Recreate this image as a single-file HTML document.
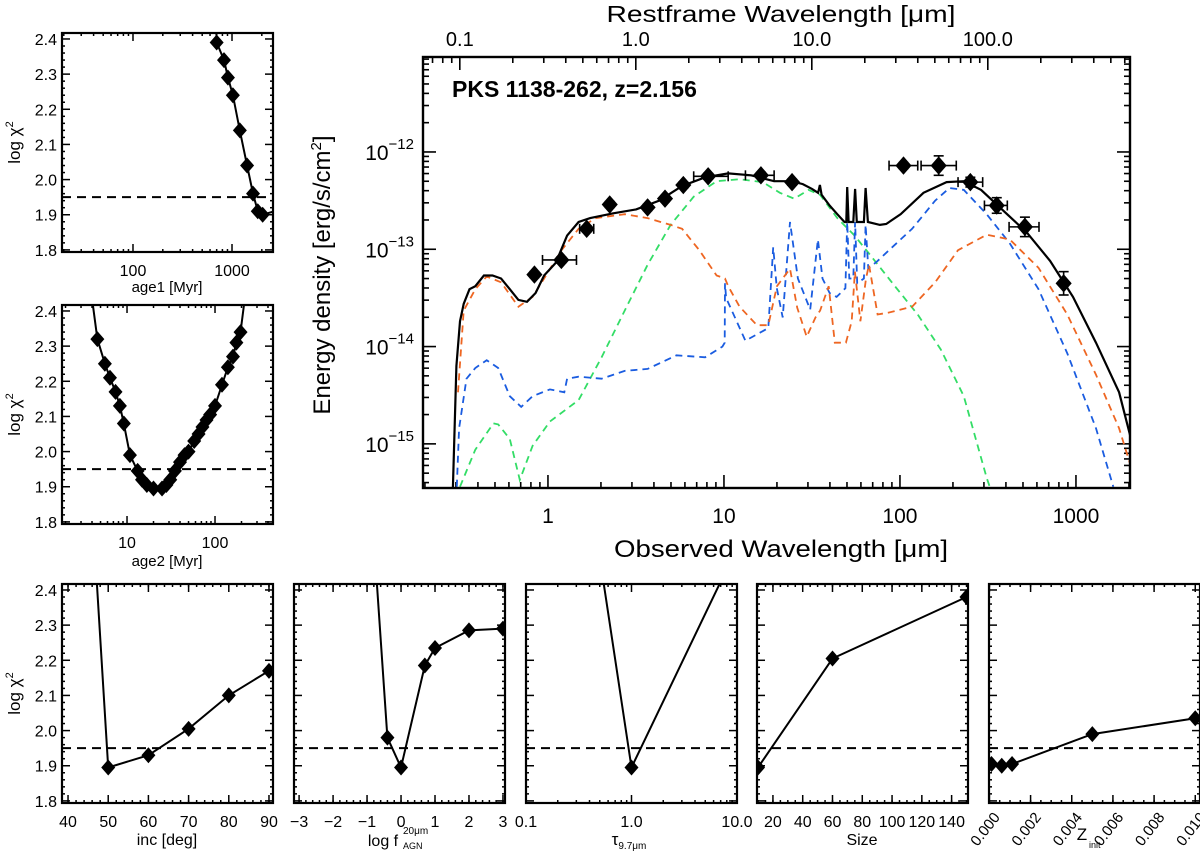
<!DOCTYPE html>
<html><head><meta charset="utf-8"><title>SED fit PKS 1138-262</title>
<style>
html,body{margin:0;padding:0;background:#fff;}
svg{display:block;font-family:"Liberation Sans",sans-serif;}
</style></head>
<body>
<svg id="chart" width="1200" height="856" viewBox="0 0 1200 856" xmlns="http://www.w3.org/2000/svg"></svg>
<script>
// ---------------- DATA ----------------
const age1X = [700, 830, 910, 1020, 1200, 1420, 1630, 1820, 2040];
const age1Y = [2.39, 2.34, 2.29, 2.24, 2.14, 2.04, 1.96, 1.91, 1.90];
const age1LineX = [680, 700, 830, 910, 1020, 1200, 1420, 1630, 1820, 2040, 2700];
const age1LineY = [2.50, 2.39, 2.34, 2.29, 2.24, 2.14, 2.04, 1.96, 1.91, 1.90, 1.91];
const age2X = [4.6, 5.6, 6.4, 7.4, 8.3, 9.2, 10.8, 13.2, 14.8, 16.8, 20, 25, 28, 31, 35, 40, 45, 50, 58, 65, 72, 80, 88, 100, 120, 140, 160, 175, 195];
const age2Y = [2.32, 2.25, 2.21, 2.17, 2.13, 2.08, 1.99, 1.945, 1.92, 1.905, 1.895, 1.895, 1.905, 1.92, 1.945, 1.97, 1.99, 2.0, 2.03, 2.05, 2.07, 2.09, 2.105, 2.13, 2.19, 2.24, 2.27, 2.31, 2.34];
const age2LineX = [3.7].concat(age2X, [235]);
const age2LineY = [2.50].concat(age2Y, [2.50]);
const incX = [50, 60, 70, 80, 90];
const incY = [1.895, 1.93, 2.005, 2.10, 2.17];
const incLineX = [47.0, 50, 60, 70, 80, 90];
const incLineY = [2.45, 1.895, 1.93, 2.005, 2.10, 2.17];
const fagnX = [-0.4, 0.0, 0.7, 1.0, 2.0, 3.0];
const fagnY = [1.98, 1.895, 2.185, 2.235, 2.285, 2.29];
const fagnLineX = [-0.72, -0.4, 0.0, 0.7, 1.0, 2.0, 3.0];
const fagnLineY = [2.43, 1.98, 1.895, 2.185, 2.235, 2.285, 2.29];
const tauX = [1.0];
const tauY = [1.895];
const tauLineX = [0.52, 1.0, 8.0];
const tauLineY = [2.46, 1.895, 2.46];
const sizeX = [10, 60, 150];
const sizeY = [1.895, 2.205, 2.38];
const zX = [0.0001, 0.0006, 0.0011, 0.005, 0.010];
const zY = [1.905, 1.90, 1.905, 1.99, 2.035];

const obsLogWl = [-0.077, 0.076, 0.22, 0.351, 0.566, 0.665, 0.769, 0.91, 1.21, 1.387, 2.02, 2.22, 2.40, 2.55, 2.71, 2.93];
const obsLogF  = [-13.26, -13.11, -12.79, -12.54, -12.57, -12.48, -12.34, -12.25, -12.24, -12.31, -12.14, -12.14, -12.31, -12.55, -12.77, -13.35];
const obsXErrLo = [0, 0.107, 0.04, 0, 0, 0, 0, 0.082, 0.088, 0, 0.082, 0.10, 0.07, 0.07, 0.09, 0];
const obsXErrHi = [0, 0.086, 0.04, 0, 0, 0, 0, 0.114, 0.075, 0, 0.081, 0.10, 0.07, 0.06, 0.08, 0];
const obsYErr   = [0.03, 0.03, 0.03, 0.03, 0.03, 0.03, 0.03, 0.03, 0.03, 0.03, 0.03, 0.10, 0.05, 0.08, 0.10, 0.12];

const totWl = [-0.54,-0.52,-0.50,-0.479,-0.446,-0.413,-0.364,-0.315,-0.266,-0.217,-0.168,-0.119,-0.070,-0.022,0.044,0.109,0.174,0.240,0.371,0.501,0.632,0.762,0.893,1.024,1.154,1.285,1.383,1.448,1.50,1.535,1.545,1.555,1.60,1.644,1.685,1.695,1.700,1.708,1.735,1.745,1.755,1.795,1.805,1.818,1.886,1.922,2.004,2.134,2.265,2.363,2.461,2.591,2.722,2.853,2.983,3.114,3.245,3.32];
const totF  = [-15.45,-14.20,-13.74,-13.56,-13.41,-13.38,-13.27,-13.27,-13.30,-13.41,-13.52,-13.54,-13.45,-13.27,-13.14,-12.86,-12.72,-12.68,-12.63,-12.59,-12.50,-12.35,-12.26,-12.22,-12.24,-12.30,-12.30,-12.33,-12.38,-12.42,-12.34,-12.44,-12.55,-12.64,-12.72,-12.72,-12.36,-12.72,-12.72,-12.38,-12.72,-12.72,-12.37,-12.72,-12.75,-12.74,-12.64,-12.42,-12.31,-12.30,-12.39,-12.61,-12.83,-13.12,-13.49,-13.96,-14.47,-15.0];

const starWl = [-0.511,-0.479,-0.413,-0.348,-0.266,-0.168,-0.087,-0.022,0.077,0.174,0.272,0.436,0.566,0.697,0.762,0.860,0.958,1.006,1.024,1.089,1.187,1.252,1.301,1.375,1.416,1.47,1.52,1.546,1.595,1.63,1.693,1.726,1.744,1.775,1.807,1.824,1.873,1.938,2.069,2.200,2.330,2.493,2.624,2.787,2.951,3.114,3.245,3.32];
const starF  = [-14.47,-13.63,-13.41,-13.28,-13.34,-13.59,-13.49,-13.30,-13.01,-12.79,-12.68,-12.64,-12.68,-12.75,-12.79,-13.01,-13.27,-13.30,-13.38,-13.59,-13.78,-13.78,-13.38,-13.20,-13.60,-13.90,-13.70,-13.63,-13.38,-13.96,-13.96,-13.74,-13.23,-13.74,-13.30,-13.16,-13.67,-13.65,-13.59,-13.34,-13.01,-12.85,-12.90,-13.19,-13.67,-14.29,-14.84,-15.28];

const agnWl = [-0.518,-0.505,-0.463,-0.413,-0.348,-0.283,-0.217,-0.152,-0.087,0.011,0.093,0.109,0.174,0.305,0.436,0.566,0.730,0.893,0.991,1.004,1.006,1.012,1.122,1.252,1.28,1.30,1.334,1.375,1.42,1.49,1.534,1.56,1.60,1.64,1.69,1.700,1.712,1.735,1.745,1.757,1.795,1.805,1.82,1.873,1.938,2.069,2.200,2.281,2.363,2.493,2.624,2.787,2.951,3.114,3.212];
const agnF  = [-15.44,-14.84,-14.33,-14.22,-14.14,-14.22,-14.51,-14.62,-14.51,-14.44,-14.47,-14.33,-14.31,-14.33,-14.25,-14.23,-14.09,-14.11,-14.00,-13.96,-13.35,-13.50,-13.94,-13.81,-12.98,-13.40,-13.70,-12.72,-13.30,-13.62,-12.90,-13.30,-13.45,-13.49,-13.40,-12.72,-13.30,-13.30,-12.72,-13.35,-13.30,-12.75,-13.20,-13.12,-13.01,-12.79,-12.50,-12.37,-12.39,-12.64,-12.94,-13.41,-14.07,-14.84,-15.44];

const hotWl = [-0.50,-0.413,-0.31,-0.283,-0.217,-0.16,-0.087,0.011,0.174,0.305,0.436,0.566,0.697,0.828,0.958,1.089,1.220,1.318,1.399,1.481,1.546,1.644,1.742,1.840,1.971,2.101,2.232,2.363,2.493,2.510];
const hotF  = [-15.44,-15.06,-14.79,-14.80,-14.95,-15.37,-15.02,-14.77,-14.55,-14.11,-13.63,-13.16,-12.75,-12.46,-12.30,-12.28,-12.31,-12.42,-12.48,-12.39,-12.44,-12.68,-12.86,-13.08,-13.38,-13.67,-14.03,-14.51,-15.35,-15.44];

const mainXTickLabels = ['1', '10', '100', '1000'];
const mainTopTickLabels = ['0.1', '1.0', '10.0', '100.0'];
const mainYTickExp = ['\u221212', '\u221213', '\u221214', '\u221215'];

// ---------------- HELPERS ----------------
const NS = 'http://www.w3.org/2000/svg';
const svg = document.getElementById('chart');
function mk(tag, attrs, parent, name) {
  const el = document.createElementNS(NS, tag);
  for (const k in attrs) el.setAttribute(k, attrs[k]);
  
  
  parent.appendChild(el);
  return el;
}
function txt(x, y, s, size, anchor, parent, name, extra) {
  const a = {x: x, y: y, 'font-size': size, 'text-anchor': anchor || 'middle', fill: '#000'};
  if (extra) for (const k in extra) a[k] = extra[k];
  const t = mk('text', a, parent, name);
  t.textContent = s;
  return t;
}
let clipId = 0;
function makeClip(L, T, W, H) {
  clipId++;
  const cp = mk('clipPath', {id: 'clip' + clipId}, svg, 'clip-region');
  mk('rect', {x: L, y: T, width: W, height: H}, cp, 'clip-rect');
  return 'url(#clip' + clipId + ')';
}
function diamond(cx, cy, hw, hh, parent, name) {
  return mk('polygon', {points: (cx) + ',' + (cy - hh) + ' ' + (cx + hw) + ',' + cy + ' ' + cx + ',' + (cy + hh) + ' ' + (cx - hw) + ',' + cy, fill: '#000'}, parent, name);
}
function pathD(xs, ys, sx, sy) {
  let d = '';
  for (let i = 0; i < xs.length; i++) d += (i ? 'L' : 'M') + sx(xs[i]).toFixed(1) + ',' + sy(ys[i]).toFixed(1);
  return d;
}

// ---------------- CHI PANELS ----------------
const YMIN = 1.794, YMAX = 2.417;
function chiPanel(c) {
  const g = mk('g', {}, svg, c.name);
  const L = c.L, R = c.L + 211, T = c.T, B = c.T + 219;
  const sx = c.log ? (v => L + (Math.log10(v) - c.xmin) / (c.xmax - c.xmin) * (R - L))
                   : (v => L + (v - c.xmin) / (c.xmax - c.xmin) * (R - L));
  const sy = v => B - (v - YMIN) / (YMAX - YMIN) * (B - T);
  const tg = mk('g', {stroke: '#000', 'stroke-width': 1.5}, g, c.name + '-ticks');
  for (let k = 0; k <= 30; k++) {
    const v = 1.8 + k * 0.02;
    const major = k % 5 === 0;
    const len = major ? 8 : 3;
    const y = sy(v);
    mk('line', {x1: L, y1: y, x2: L + len, y2: y}, tg, 'y-tick');
    mk('line', {x1: R, y1: y, x2: R - len, y2: y}, tg, 'y-tick');
    if (major && c.yLabels) txt(L - 5, y + 6, v.toFixed(1), 16, 'end', g, 'y-tick-label');
  }
  c.xMinor.forEach(v => {
    const x = sx(v);
    mk('line', {x1: x, y1: B, x2: x, y2: B - 3}, tg, 'x-minor-tick');
    mk('line', {x1: x, y1: T, x2: x, y2: T + 3}, tg, 'x-minor-tick');
  });
  c.xMajor.forEach((v, i) => {
    const x = sx(v);
    mk('line', {x1: x, y1: B, x2: x, y2: B - 8}, tg, 'x-tick');
    mk('line', {x1: x, y1: T, x2: x, y2: T + 8}, tg, 'x-tick');
    if (c.rotLabels) {
      txt(x + 3, B + 8, c.xLabels[i], 15, 'end', g, 'x-tick-label', {transform: 'rotate(-52 ' + (x + 3) + ' ' + (B + 8) + ')', 'dominant-baseline': 'hanging'});
    } else {
      txt(x, B + 24, c.xLabels[i], 16, 'middle', g, 'x-tick-label');
    }
  });
  const clip = makeClip(L, T, R - L, B - T);
  const cg = mk('g', {'clip-path': clip}, g, c.name + '-plot-area');
  mk('line', {x1: L, y1: sy(1.95), x2: R, y2: sy(1.95), stroke: '#000', 'stroke-width': 2, 'stroke-dasharray': '9,6'}, cg, 'threshold-line');
  mk('path', {d: pathD(c.lx, c.ly, sx, sy), fill: 'none', stroke: '#000', 'stroke-width': 2}, cg, 'chi2-line');
  for (let i = 0; i < c.mx.length; i++) diamond(sx(c.mx[i]), sy(c.my[i]), 7, 8, cg, 'chi2-marker');
  mk('rect', {x: L, y: T, width: R - L, height: B - T, fill: 'none', stroke: '#000', 'stroke-width': 2.2}, g, c.name + '-frame');
  if (c.yLabels) {
    const cy = (T + B) / 2;
    const t = txt(20, cy, 'log \u03c7', 17, 'middle', g, 'y-axis-title', {transform: 'rotate(-90 20 ' + cy + ')'});
    const sp = mk('tspan', {dy: -7, 'font-size': 11}, t, 'superscript');
    sp.textContent = '2';
  }
  return {g: g, L: L, R: R, B: B};
}
function range(a, b, s) { const r = []; for (let v = a; v <= b + 1e-9; v += s) r.push(+v.toFixed(6)); return r; }
function logMinor(decs, maxV, minV) {
  const r = [];
  decs.forEach(d => { for (let m = 2; m <= 9; m++) { const v = m * d; if (v <= maxV && v >= minV) r.push(v); } });
  return r;
}

const p1 = chiPanel({name: 'age1-panel', L: 62, T: 33, log: true, xmin: 1.283, xmax: 3.414, yLabels: true,
  xMajor: [100, 1000], xLabels: ['100', '1000'], xMinor: logMinor([10, 100, 1000], 2590, 20),
  lx: age1LineX, ly: age1LineY, mx: age1X, my: age1Y});
txt(167, 292, 'age1  [Myr]', 15, 'middle', p1.g, 'x-axis-title');
const p2 = chiPanel({name: 'age2-panel', L: 62, T: 305, log: true, xmin: 0.261, xmax: 2.659, yLabels: true,
  xMajor: [10, 100], xLabels: ['10', '100'], xMinor: logMinor([1, 10, 100], 455, 1.9),
  lx: age2LineX, ly: age2LineY, mx: age2X, my: age2Y});
txt(167, 566, 'age2  [Myr]', 15, 'middle', p2.g, 'x-axis-title');
const p3 = chiPanel({name: 'inc-panel', L: 62, T: 584, log: false, xmin: 38.5, xmax: 91, yLabels: true,
  xMajor: range(40, 90, 10), xLabels: ['40', '50', '60', '70', '80', '90'], xMinor: range(40, 90, 2),
  lx: incLineX, ly: incLineY, mx: incX, my: incY});
txt(167, 845, 'inc  [deg]', 16, 'middle', p3.g, 'x-axis-title');
const p4 = chiPanel({name: 'fagn-panel', L: 294, T: 584, log: false, xmin: -3.15, xmax: 3.06, yLabels: false,
  xMajor: range(-3, 3, 1), xLabels: ['\u22123', '\u22122', '\u22121', '0', '1', '2', '3'], xMinor: range(-3, 3, 0.2),
  lx: fagnLineX, ly: fagnLineY, mx: fagnX, my: fagnY});
txt(383, 846, 'log  f', 16, 'middle', p4.g, 'x-axis-title');
txt(403, 834, '20\u03bcm', 10, 'start', p4.g, 'x-axis-title-sup');
txt(403, 849, 'AGN', 9, 'start', p4.g, 'x-axis-title-sub');
const p5 = chiPanel({name: 'tau-panel', L: 526, T: 584, log: true, xmin: -1.0, xmax: 1.0, yLabels: false,
  xMajor: [0.1, 1, 10], xLabels: ['0.1', '1.0', '10.0'], xMinor: logMinor([0.1, 1], 10, 0.1),
  lx: tauLineX, ly: tauLineY, mx: tauX, my: tauY});
const tt = txt(629, 845, '\u03c4', 17, 'middle', p5.g, 'x-axis-title');
const ts = mk('tspan', {dy: 4, 'font-size': 10}, tt, 'subscript');
ts.textContent = '9.7\u03bcm';
const p6 = chiPanel({name: 'size-panel', L: 757, T: 584, log: false, xmin: 9.3, xmax: 151, yLabels: false,
  xMajor: range(20, 140, 20), xLabels: ['20', '40', '60', '80', '100', '120', '140'], xMinor: range(10, 150, 5),
  lx: sizeX, ly: sizeY, mx: sizeX, my: sizeY});
txt(862, 845, 'Size', 16, 'middle', p6.g, 'x-axis-title');
const p7 = chiPanel({name: 'zinit-panel', L: 989, T: 584, log: false, xmin: -0.00002, xmax: 0.01023, yLabels: false, rotLabels: true,
  xMajor: range(0, 0.01, 0.002), xLabels: ['0.000', '0.002', '0.004', '0.006', '0.008', '0.010'], xMinor: range(0, 0.01, 0.0005),
  lx: zX, ly: zY, mx: zX, my: zY});
txt(1082, 840, 'Z', 17, 'middle', p7.g, 'x-axis-title');
txt(1089, 848, 'init', 9, 'start', p7.g, 'x-axis-title-sub');

// ---------------- MAIN SED ----------------
const mg = mk('g', {}, svg, 'sed-panel');
const ML = 423, MR = 1130, MT = 57, MB = 488;
const XL0 = -0.71, XDEC = 176, YT0 = -11.024, YDEC = 97.3;
const mx = lg => ML + (lg - XL0) * XDEC;
const my = lf => MT + (YT0 - lf) * YDEC;
const zfac = Math.log10(1 + 2.156);
const mt = mk('g', {stroke: '#000', 'stroke-width': 1.6}, mg, 'sed-ticks');
for (let d = -1; d <= 3; d++) {
  for (let m = 1; m <= 9; m++) {
    const lg = d + Math.log10(m);
    if (lg < XL0 || lg > 3.31) continue;
    const x = mx(lg);
    const len = m === 1 ? 13 : 6;
    mk('line', {x1: x, y1: MB, x2: x, y2: MB - len}, mt, 'x-tick');
  }
}
mainXTickLabels.forEach((s, i) => txt(mx(i), 523, s, 21, 'middle', mg, 'x-tick-label'));
for (let d = -2; d <= 3; d++) {
  for (let m = 1; m <= 9; m++) {
    const lg = d + Math.log10(m) + zfac;
    if (lg < XL0 || lg > 3.31) continue;
    const x = mx(lg);
    const len = m === 1 ? 13 : 6;
    mk('line', {x1: x, y1: MT, x2: x, y2: MT + len}, mt, 'top-x-tick');
  }
}
mainTopTickLabels.forEach((s, i) => txt(mx(i - 1 + zfac), 46, s, 20, 'middle', mg, 'top-x-tick-label'));
for (let d = -16; d <= -11; d++) {
  for (let m = 1; m <= 9; m++) {
    const lf = d + Math.log10(m);
    if (lf > YT0 || lf < -15.45) continue;
    const y = my(lf);
    const len = m === 1 ? 13 : 6;
    mk('line', {x1: ML, y1: y, x2: ML + len, y2: y}, mt, 'y-tick');
    mk('line', {x1: MR, y1: y, x2: MR - len, y2: y}, mt, 'y-tick');
  }
}
mainYTickExp.forEach((s, i) => {
  const y = my(-12 - i);
  const t = txt(414, y + 8, '10', 21, 'end', mg, 'y-tick-label');
  const sp = mk('tspan', {dy: -11, 'font-size': 15}, t, 'y-tick-exponent');
  sp.textContent = s;
});
const mclip = makeClip(ML, MT, MR - ML, MB - MT);
const cg = mk('g', {'clip-path': mclip, fill: 'none'}, mg, 'sed-plot-area');
mk('path', {d: pathD(hotWl, hotF, mx, my), stroke: '#33dd66', 'stroke-width': 1.8, 'stroke-dasharray': '7,5'}, cg, 'hot-dust-component');
mk('path', {d: pathD(agnWl, agnF, mx, my), stroke: '#1a5ce0', 'stroke-width': 1.8, 'stroke-dasharray': '7,5'}, cg, 'agn-torus-component');
mk('path', {d: pathD(starWl, starF, mx, my), stroke: '#ee6622', 'stroke-width': 1.8, 'stroke-dasharray': '7,5'}, cg, 'stellar-starburst-component');
mk('path', {d: pathD(totWl, totF, mx, my), stroke: '#000', 'stroke-width': 2.2}, cg, 'total-model');
const og = mk('g', {stroke: '#000', 'stroke-width': 1.6}, cg, 'observations');
for (let i = 0; i < obsLogWl.length; i++) {
  const x = mx(obsLogWl[i]), y = my(obsLogF[i]);
  if (obsXErrLo[i] > 0 || obsXErrHi[i] > 0) {
    const x1 = mx(obsLogWl[i] - obsXErrLo[i]), x2 = mx(obsLogWl[i] + obsXErrHi[i]);
    mk('line', {x1: x1, y1: y, x2: x2, y2: y}, og, 'x-error-bar');
    mk('line', {x1: x1, y1: y - 5, x2: x1, y2: y + 5}, og, 'x-error-cap');
    mk('line', {x1: x2, y1: y - 5, x2: x2, y2: y + 5}, og, 'x-error-cap');
  }
  const y1 = my(obsLogF[i] + obsYErr[i]), y2 = my(obsLogF[i] - obsYErr[i]);
  mk('line', {x1: x, y1: y1, x2: x, y2: y2}, og, 'y-error-bar');
  mk('line', {x1: x - 5, y1: y1, x2: x + 5, y2: y1}, og, 'y-error-cap');
  mk('line', {x1: x - 5, y1: y2, x2: x + 5, y2: y2}, og, 'y-error-cap');
  diamond(x, y, 7, 8, og, 'observed-point');
}
mk('rect', {x: ML, y: MT, width: MR - ML, height: MB - MT, fill: 'none', stroke: '#000', 'stroke-width': 2.4}, mg, 'sed-frame');
txt(452, 97, 'PKS 1138-262, z=2.156', 23, 'start', mg, 'source-title', {'font-weight': 'bold'});
txt(781, 557, 'Observed Wavelength [\u03bcm]', 24, 'middle', mg, 'x-axis-title', {textLength: 334, lengthAdjust: 'spacingAndGlyphs'});
txt(781, 22, 'Restframe Wavelength [\u03bcm]', 23, 'middle', mg, 'top-x-axis-title', {textLength: 349, lengthAdjust: 'spacingAndGlyphs'});
const yl = txt(330, 275, 'Energy density [erg/s/cm', 24, 'middle', mg, 'y-axis-title', {transform: 'rotate(-90 330 275)'});
const ys2 = mk('tspan', {dy: -9, 'font-size': 15}, yl, 'superscript');
ys2.textContent = '2';
const ys3 = mk('tspan', {dy: 9}, yl, 'bracket');
ys3.textContent = ']';
</script>
</body></html>
